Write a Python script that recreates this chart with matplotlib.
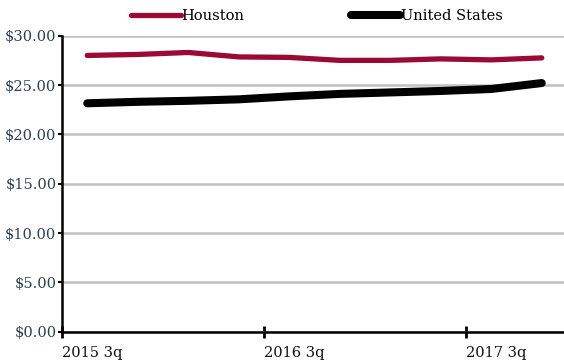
import matplotlib
matplotlib.use("Agg")
import matplotlib.pyplot as plt

quarters = ["2015 3q", "2015 4q", "2016 1q", "2016 2q", "2016 3q",
            "2016 4q", "2017 1q", "2017 2q", "2017 3q", "2017 4q"]
houston = [28.0, 28.1, 28.3, 27.85, 27.8, 27.5, 27.5, 27.65, 27.55, 27.75]
united_states = [23.15, 23.3, 23.4, 23.55, 23.85, 24.1, 24.25, 24.4, 24.6, 25.2]
y_ticks = [0, 5, 10, 15, 20, 25, 30]
label_every = 4

plt.rcParams['font.family'] = ['DejaVu Serif']

fig = plt.figure(figsize=(5.64, 3.62), dpi=100)
ax = fig.add_axes([62/564, 30.3/362, 505/564, 296/362])

x = list(range(len(quarters)))
l1, = ax.plot(x, houston, color="#9b0a32", lw=3.8, solid_capstyle="round",
              solid_joinstyle="round", label="Houston", zorder=3)
l2, = ax.plot(x, united_states, color="#000000", lw=5.8, solid_capstyle="round",
              solid_joinstyle="round", label="United States", zorder=3)

ax.set_xlim(-0.5, len(quarters) - 0.5)
ax.set_ylim(0, 30)
ax.set_yticks(y_ticks)
ax.set_yticklabels([f"${v:.2f}" for v in y_ticks], color="#2e3f52", fontsize=10.5)
ax.yaxis.grid(True, color="#c0c0c0", lw=1.8)
ax.set_axisbelow(True)

xt = [i - 0.5 for i in range(0, len(quarters), label_every)]
ax.set_xticks(xt)
ax.set_xticklabels([quarters[i] for i in range(0, len(quarters), label_every)],
                   ha="left", fontsize=10.5, color="#111111")
ax.tick_params(axis="x", direction="inout", length=9, width=2, pad=6)
ax.tick_params(axis="y", direction="out", length=3, width=1.5, pad=1)

for s in ["top", "right"]:
    ax.spines[s].set_visible(False)
for s in ["left", "bottom"]:
    ax.spines[s].set_linewidth(1.8)
    ax.spines[s].set_color("black")

fig.legend(handles=[l1, l2], loc="center", bbox_to_anchor=(0.562, 0.955),
           ncol=2, frameon=False, handlelength=3.4, handletextpad=0.05,
           columnspacing=7.3, fontsize=10.5)

fig.savefig("out.png", dpi=100)
